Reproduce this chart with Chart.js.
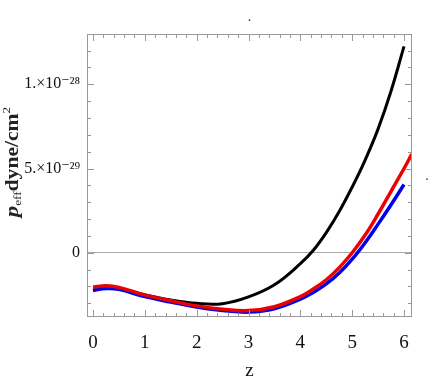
<!DOCTYPE html>
<html>
<head>
<meta charset="utf-8">
<script src="https://cdn.jsdelivr.net/npm/chart.js@4.4.0/dist/chart.umd.min.js"></script>
<style>
  html, body { margin: 0; padding: 0; background: #fff; }
</style>
</head>
<body>
<canvas id="c" width="436" height="382"></canvas>
<script>
// values in units of 1e-29 dyne/cm^2
const zValues = [0, 0.25, 0.5, 1, 1.5, 2, 2.5, 3, 3.5, 4, 4.25, 4.5, 4.75, 5, 5.25, 5.5, 5.75, 6];
const blackValues = [-2.2, -2.1, -2.15, -2.5, -2.8, -3.0, -3.02, -2.62, -1.9, -0.65, 0.15, 1.2, 2.45, 3.9, 5.5, 7.35, 9.6, 12.25];
const blueValues = [-2.24, -2.12, -2.17, -2.6, -2.92, -3.22, -3.42, -3.52, -3.32, -2.75, -2.35, -1.85, -1.2, -0.38, 0.6, 1.7, 2.85, 4.05];
const redZ = [0, 0.25, 0.5, 1, 1.5, 2, 2.5, 3, 3.5, 4, 4.25, 4.5, 4.75, 5, 5.25, 5.5, 5.75, 6, 6.15];
const redValues = [-2.04, -1.96, -2.05, -2.5, -2.85, -3.15, -3.35, -3.43, -3.2, -2.6, -2.15, -1.6, -0.88, 0.0, 1.05, 2.3, 3.65, 5.0, 5.85];

const xTicks = [0, 1, 2, 3, 4, 5, 6];
const yTicks = [0, 5, 10];
const yTickLabels = ['0', '5.×10⁻²⁹', '1.×10⁻²⁸'];

const serif = "'Liberation Serif', 'DejaVu Serif', serif";

const pts = (xs, ys) => xs.map((x, i) => ({ x: x, y: ys[i] }));

// Mathematica style frame with inward ticks
const frameTicks = {
  id: 'frameTicks',
  afterDraw(chart) {
    const { ctx, chartArea: a, scales: { x, y } } = chart;
    ctx.save();
    ctx.strokeStyle = '#999';
    ctx.lineWidth = 1;
    ctx.strokeRect(a.left + 0.5, a.top + 0.5, a.width - 1, a.height - 1);

    ctx.beginPath();
    for (let i = 0; i <= 30; i++) {
      const v = i * 0.2;
      const len = i % 5 === 0 ? 7 : 4;
      const px = Math.round(x.getPixelForValue(v)) + 0.5;
      ctx.moveTo(px, a.bottom); ctx.lineTo(px, a.bottom - len);
      ctx.moveTo(px, a.top); ctx.lineTo(px, a.top + len);
    }
    for (let v = -3; v <= 12; v++) {
      const len = v % 5 === 0 ? 7 : 4;
      const py = Math.round(y.getPixelForValue(v)) + 0.5;
      ctx.moveTo(a.left, py); ctx.lineTo(a.left + len, py);
      ctx.moveTo(a.right, py); ctx.lineTo(a.right - len, py);
    }
    ctx.stroke();

    // stray dots from the original figure
    ctx.fillStyle = '#333';
    ctx.font = '14px ' + serif;
    ctx.textAlign = 'center';
    ctx.fillText('.', (a.left + a.right) / 2, 21);
    ctx.fillText('.', 427, 180);

    // y axis title: p_eff dyne/cm^2
    ctx.translate(18, 162);
    ctx.rotate(-Math.PI / 2);
    ctx.scale(1.2, 1);
    ctx.fillStyle = '#222';
    ctx.textAlign = 'left';
    ctx.textBaseline = 'alphabetic';
    const parts = [
      { t: 'p', f: 'italic bold 19px ' + serif, dy: 0 },
      { t: 'eff', f: '11px ' + serif, dy: 3 },
      { t: 'dyne/cm', f: 'bold 18px ' + serif, dy: 0 },
      { t: '2', f: '11px ' + serif, dy: -8 }
    ];
    let w = 0;
    parts.forEach(p => { ctx.font = p.f; p.w = ctx.measureText(p.t).width; w += p.w; });
    let cx = -w / 2;
    parts.forEach(p => { ctx.font = p.f; ctx.fillText(p.t, cx, p.dy); cx += p.w; });
    ctx.restore();
  }
};

new Chart(document.getElementById('c'), {
  type: 'line',
  data: {
    datasets: [
      { label: 'red', data: pts(redZ, redValues), borderColor: '#ee0000', borderWidth: 3.5 },
      { label: 'blue', data: pts(zValues, blueValues), borderColor: '#0000ee', borderWidth: 3.5 },
      { label: 'black', data: pts(zValues, blackValues), borderColor: '#000', borderWidth: 3 }
    ]
  },
  options: {
    responsive: false,
    animation: false,
    layout: { padding: { top: 34, right: 24, left: 0, bottom: 0 } },
    elements: {
      point: { radius: 0 },
      line: { tension: 0.4, borderCapStyle: 'butt' }
    },
    plugins: { legend: { display: false }, tooltip: { enabled: false } },
    scales: {
      x: {
        type: 'linear',
        min: -0.116,
        max: 6.154,
        afterBuildTicks: s => { s.ticks = xTicks.map(v => ({ value: v })); },
        afterFit: s => { s.height = 65; },
        grid: { display: false },
        border: { display: false },
        ticks: { color: '#111', padding: 7, maxRotation: 0, font: { family: serif, size: 19 } },
        title: { display: true, text: 'z', color: '#111', padding: 0, font: { family: serif, size: 19 } }
      },
      y: {
        min: -3.81,
        max: 12.98,
        afterBuildTicks: s => { s.ticks = yTicks.map(v => ({ value: v })); },
        afterFit: s => { s.width = 87; },
        grid: {
          drawTicks: false,
          color: c => (c.tick && c.tick.value === 0 ? '#aaa' : 'rgba(0,0,0,0)')
        },
        border: { display: false },
        ticks: {
          color: '#111',
          padding: 7,
          font: { family: serif, size: 16 },
          callback: v => yTickLabels[yTicks.indexOf(v)]
        }
      }
    }
  },
  plugins: [frameTicks]
});
</script>
</body>
</html>
